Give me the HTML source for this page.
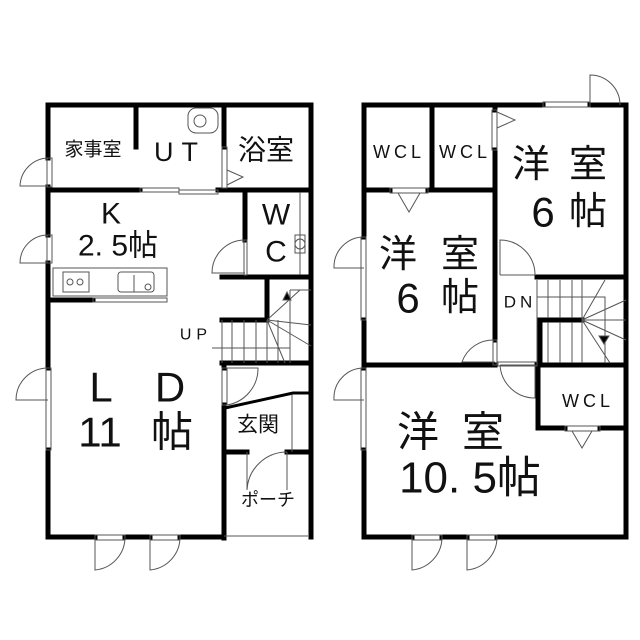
<!DOCTYPE html>
<html><head><meta charset="utf-8"><style>html,body{margin:0;padding:0;background:#fff}svg{display:block}text{font-family:"Liberation Sans","Noto Sans CJK JP",sans-serif;fill:#111}</style></head><body>
<svg width="640" height="640" viewBox="0 0 640 640" xmlns="http://www.w3.org/2000/svg">
<g stroke="#000" stroke-width="5" fill="none" stroke-linecap="square">
<path d="M48 105 H311 V537"/>
<path d="M48 105 V158 M48 187 V235 M48 263 V368 M48 450 V537 H95 M125 537 H150 M180 537 H223"/>
<path d="M136 105 V147"/>
<path d="M224 105 V147"/>
<path d="M48 190 H140 M218 190 H311"/>
<path d="M245 190 V240"/>
<path d="M222 277 H311"/>
<path d="M48 300 H93"/>
<path d="M267 280 V320 H222"/>
<path d="M222 363 H311"/>
<path d="M224 363 V368 M224 405 V538"/>
<path d="M225 452 H247 M287 452 H311"/>
<path d="M364 105 H543 M590 105 H626 V537 H497 M467 537 H442 M412 537 H364 V450 M364 368 V320 M364 237 V105"/>
<path d="M432 105 V190"/>
<path d="M364 190 H390 M428 190 H495"/>
<path d="M495 105 V110 M495 150 V340"/>
<path d="M537 277 H626"/>
<path d="M540 320 H582"/>
<path d="M540 320 V365"/>
<path d="M364 365 H495 M537 365 H626"/>
<path d="M538 365 V428 H565 M600 428 H626"/>
</g>
<g stroke="#555" stroke-width="1" fill="none">
<rect x="140" y="188" width="39" height="4"/><rect x="179" y="190" width="39" height="4"/>
<rect x="222" y="147" width="5" height="41"/><path d="M227 170 L243 177 L227 185"/>
<rect x="47" y="158" width="5" height="29"/><path d="M48 158 A29 29 0 0 0 20 186 H48"/>
<rect x="47" y="235" width="5" height="28"/><path d="M48 235 A28 28 0 0 0 20 263 H48"/>
<rect x="244" y="240" width="3" height="35"/><path d="M245 240 A33 33 0 0 0 212 273 H245"/>
<path d="M300 192 V275"/><rect x="295" y="235" width="10" height="18"/><circle cx="300" cy="244" r="5"/>
<rect x="188" y="108" width="30" height="25" rx="8"/><circle cx="200" cy="121" r="6"/>
<rect x="53" y="268" width="114" height="28"/><rect x="63" y="272" width="26" height="20"/><circle cx="70" cy="282" r="3"/><circle cx="80" cy="282" r="3"/>
<rect x="118" y="272" width="36" height="20" rx="3"/><path d="M134 275 V292"/><circle cx="148" cy="287" r="3"/>
<rect x="93" y="298" width="74" height="4"/>
<path d="M222 320 V363 M232 320 V363 M244 320 V363 M256 320 V363 M267 320 V363 M278 320 V363 M290 320 V363"/>
<path d="M290 290 V363 M290 290 H311 M267 320 L311 346 M267 320 L311 325 M267 320 L300 290 M267 320 L285 363 M212 348 H290"/>
<path d="M283 300 L287 292 L291 300Z" fill="#000"/>
<rect x="222" y="368" width="5" height="37"/><path d="M224 368 H258 A37 37 0 0 1 227 405"/>
<path d="M225 408 L293 393 H311" stroke="#000" stroke-width="3"/>
<path d="M292 395 V452"/>
<path d="M247 452 V490 A40 40 0 0 1 287 452 M287 452 V490"/>
<path d="M224 536 H308"/>
<rect x="46" y="368" width="5" height="82"/><path d="M48 368 A32 32 0 0 0 16 400 H48"/>
<rect x="95" y="535" width="30" height="5"/><path d="M95 537 V570 A33 33 0 0 0 125 537"/>
<rect x="150" y="535" width="30" height="5"/><path d="M150 537 V570 A33 33 0 0 0 180 537"/>
<rect x="543" y="102" width="47" height="5"/>
<path d="M590 105 V75 A30 30 0 0 1 620 105"/>
<rect x="390" y="188" width="38" height="5"/><path d="M398 193 L409 212 L420 193"/>
<rect x="492" y="110" width="5" height="40"/><path d="M497 112 L515 120 L497 128"/>
<path d="M500 275 V240 A35 35 0 0 1 535 275 H500"/>
<rect x="361" y="237" width="5" height="83"/><path d="M364 237 A30 30 0 0 0 334 268 H364"/>
<path d="M495 340 A33 33 0 0 0 462 362 H495"/><rect x="493" y="340" width="4" height="25"/>
<path d="M500 365 H535 V398 A35 35 0 0 1 500 365"/><rect x="498" y="362" width="39" height="4"/>
<rect x="565" y="426" width="35" height="5"/><path d="M572 431 L582 448 L592 431"/>
<rect x="361" y="368" width="5" height="82"/><path d="M364 368 A30 30 0 0 0 334 400 H364"/>
<rect x="412" y="535" width="30" height="5"/><path d="M412 537 V570 A33 33 0 0 0 442 537"/>
<rect x="467" y="535" width="30" height="5"/><path d="M467 537 V570 A33 33 0 0 0 497 537"/>
<path d="M537 280 V363 M548 280 V318 M560 280 V318 M572 280 V318 M582 280 V363 M548 322 V363 M560 322 V363 M572 322 V363 M537 297 H605 V363 M582 320 L626 300 M582 320 L626 340 M582 320 L610 363 M582 320 L605 280 M582 320 L626 320"/>
<path d="M599 336 L604 344 L609 336Z" fill="#000"/>
</g>
<g text-anchor="middle" dominant-baseline="central">
<text x="93" y="150" font-size="19">家事室</text>
<text x="180" y="152" font-size="27" letter-spacing="8">UT</text>
<text x="266" y="150" font-size="28">浴室</text>
<text x="111" y="214" font-size="30">K</text>
<text x="118" y="246" font-size="30">2. 5帖</text>
<text x="276" y="215" font-size="30">W</text>
<text x="276" y="252" font-size="30">C</text>
<text x="196" y="335" font-size="16" letter-spacing="5">UP</text>
<text x="101" y="387" font-size="42">L</text><text x="170" y="387" font-size="42">D</text>
<text x="100" y="432" font-size="42">11</text><text x="172" y="432" font-size="42">帖</text>
<text x="258" y="425" font-size="21">玄関</text>
<text x="268" y="500" font-size="18">ポーチ</text>
<text x="399" y="152" font-size="18" letter-spacing="4">WCL</text>
<text x="465" y="152" font-size="18" letter-spacing="4">WCL</text>
<text x="531" y="165" font-size="38">洋</text><text x="588" y="165" font-size="38">室</text>
<text x="543" y="212" font-size="42">6</text><text x="588" y="212" font-size="38">帖</text>
<text x="398" y="255" font-size="38">洋</text><text x="460" y="255" font-size="38">室</text>
<text x="408" y="298" font-size="42">6</text><text x="460" y="298" font-size="38">帖</text>
<text x="520" y="302" font-size="17" letter-spacing="4">DN</text>
<text x="588" y="401" font-size="18" letter-spacing="4">WCL</text>
<text x="418" y="432" font-size="42">洋</text><text x="483" y="432" font-size="42">室</text>
<text x="470" y="478" font-size="44">10. 5帖</text>
</g>
</svg>
</body></html>
